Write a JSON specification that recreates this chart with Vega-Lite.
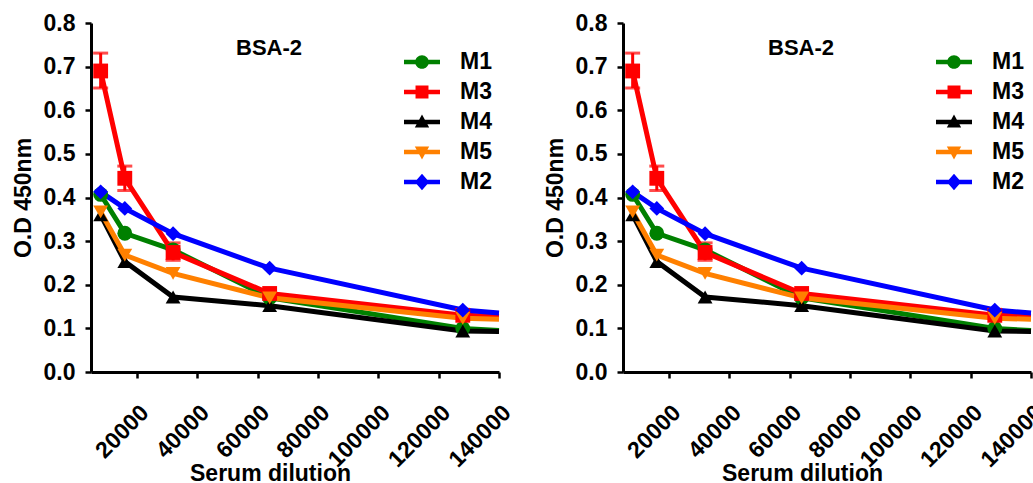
{
  "$schema": "https://vega.github.io/schema/vega-lite/v6.json",
  "padding": {"left": 12, "top": 12, "right": 0, "bottom": 0},
  "background": "white",
  "data": {"values": [
    {"series": "M1", "dil": 8000, "od": 0.407},
    {"series": "M1", "dil": 16000, "od": 0.318},
    {"series": "M1", "dil": 32000, "od": 0.28},
    {"series": "M1", "dil": 64000, "od": 0.17},
    {"series": "M1", "dil": 128000, "od": 0.1},
    {"series": "M1", "dil": 140000, "od": 0.095},
    {"series": "M3", "dil": 8000, "od": 0.69, "lo": 0.651, "hi": 0.731},
    {"series": "M3", "dil": 16000, "od": 0.444, "lo": 0.416, "hi": 0.472},
    {"series": "M3", "dil": 32000, "od": 0.274, "lo": 0.256, "hi": 0.296},
    {"series": "M3", "dil": 64000, "od": 0.18},
    {"series": "M3", "dil": 128000, "od": 0.13},
    {"series": "M3", "dil": 140000, "od": 0.128},
    {"series": "M4", "dil": 8000, "od": 0.36},
    {"series": "M4", "dil": 16000, "od": 0.253},
    {"series": "M4", "dil": 32000, "od": 0.172},
    {"series": "M4", "dil": 64000, "od": 0.152},
    {"series": "M4", "dil": 128000, "od": 0.094},
    {"series": "M4", "dil": 140000, "od": 0.093},
    {"series": "M5", "dil": 8000, "od": 0.367},
    {"series": "M5", "dil": 16000, "od": 0.268},
    {"series": "M5", "dil": 32000, "od": 0.226},
    {"series": "M5", "dil": 64000, "od": 0.17},
    {"series": "M5", "dil": 128000, "od": 0.123},
    {"series": "M5", "dil": 140000, "od": 0.121},
    {"series": "M2", "dil": 8000, "od": 0.413},
    {"series": "M2", "dil": 16000, "od": 0.375},
    {"series": "M2", "dil": 32000, "od": 0.317},
    {"series": "M2", "dil": 64000, "od": 0.238},
    {"series": "M2", "dil": 128000, "od": 0.142},
    {"series": "M2", "dil": 140000, "od": 0.135}
  ]},
  "hconcat": [
    {
      "width": 408, "height": 349,
      "title": {"text": "BSA-2", "anchor": "middle", "frame": "group", "dx": -26, "dy": 65, "offset": 0, "baseline": "alphabetic", "fontSize": 22, "fontWeight": "bold", "font": "Liberation Sans", "color": "black"},
      "encoding": {
        "x": {"field": "dil", "type": "quantitative", "scale": {"domain": [4800, 140000], "nice": false, "zero": false},
              "axis": {"title": "Serum dilution", "values": [20000, 40000, 60000, 80000, 100000, 120000, 140000], "format": "d", "labelAngle": -45, "labelOverlap": false, "labelPadding": 23, "titleX": 179, "titleY": 108, "titleBaseline": "alphabetic"}},
        "y": {"field": "od", "type": "quantitative", "scale": {"domain": [0, 0.8], "nice": false},
              "axis": {"title": "O.D 450nm", "values": [0, 0.1, 0.2, 0.3, 0.4, 0.5, 0.6, 0.7, 0.8], "format": ".1f", "labelOverlap": false}}
      },
      "layer": [
        {"mark": {"type": "line", "strokeWidth": 5},
         "encoding": {"color": {"field": "series", "type": "nominal", "scale": {"domain": ["M1", "M3", "M4", "M5", "M2"], "range": ["#008000", "#ff0000", "#000000", "#ff8000", "#0000ff"]}, "legend": null}}},
        {"transform": [{"filter": "isValid(datum.lo)"}],
         "mark": {"type": "errorbar", "ticks": {"size": 15, "thickness": 3}, "rule": {"strokeWidth": 3}},
         "encoding": {"y": {"field": "lo", "type": "quantitative"}, "y2": {"field": "hi"},
                      "color": {"field": "series", "type": "nominal", "scale": {"domain": ["M1", "M3", "M4", "M5", "M2"], "range": ["#008000", "#ff0000", "#000000", "#ff8000", "#0000ff"]}, "legend": null}}},
        {"transform": [{"filter": "datum.dil < 140000"}],
         "mark": {"type": "point", "filled": true, "size": 220, "opacity": 1, "strokeWidth": 0},
         "encoding": {"color": {"field": "series", "type": "nominal", "scale": {"domain": ["M1", "M3", "M4", "M5", "M2"], "range": ["#008000", "#ff0000", "#000000", "#ff8000", "#0000ff"]}, "legend": null},
                      "shape": {"field": "series", "type": "nominal", "scale": {"domain": ["M1", "M3", "M4", "M5", "M2"], "range": ["circle", "square", "triangle-up", "triangle-down", "diamond"]}, "legend": null}}},
        {"transform": [{"filter": "datum.dil < 0"}],
         "mark": {"type": "point", "filled": true, "opacity": 1, "strokeWidth": 0},
         "encoding": {"color": {"field": "series", "type": "nominal", "scale": {"domain": ["M1", "M3", "M4", "M5", "M2"], "range": ["#008000", "#ff0000", "#000000", "#ff8000", "#0000ff"]}, "legend": {"title": null, "orient": "none", "legendX": 313, "legendY": 21}},
                      "shape": {"field": "series", "type": "nominal", "scale": {"domain": ["M1", "M3", "M4", "M5", "M2"], "range": [
                        "M-1,-0.12H1V0.12H-1Z M-0.38,0A0.38,0.38 0 1,1 0.38,0A0.38,0.38 0 1,1 -0.38,0Z",
                        "M-1,-0.12H1V0.12H-1Z M-0.36,-0.36H0.36V0.36H-0.36Z",
                        "M-1,-0.12H1V0.12H-1Z M0,-0.42L0.4,0.3H-0.4Z",
                        "M-1,-0.12H1V0.12H-1Z M0,0.42L-0.4,-0.3H0.4Z",
                        "M-1,-0.12H1V0.12H-1Z M0,-0.46L0.4,0L0,0.46L-0.4,0Z"]}, "legend": {"title": null, "orient": "none", "legendX": 313, "legendY": 21}}}}
      ],
      "resolve": {"scale": {"color": "independent", "shape": "independent"}}
    },
    {
      "width": 408, "height": 349,
      "title": {"text": "BSA-2", "anchor": "middle", "frame": "group", "dx": -26, "dy": 65, "offset": 0, "baseline": "alphabetic", "fontSize": 22, "fontWeight": "bold", "font": "Liberation Sans", "color": "black"},
      "encoding": {
        "x": {"field": "dil", "type": "quantitative", "scale": {"domain": [4800, 140000], "nice": false, "zero": false},
              "axis": {"title": "Serum dilution", "values": [20000, 40000, 60000, 80000, 100000, 120000, 140000], "format": "d", "labelAngle": -45, "labelOverlap": false, "labelPadding": 23, "titleX": 179, "titleY": 108, "titleBaseline": "alphabetic"}},
        "y": {"field": "od", "type": "quantitative", "scale": {"domain": [0, 0.8], "nice": false},
              "axis": {"title": "O.D 450nm", "values": [0, 0.1, 0.2, 0.3, 0.4, 0.5, 0.6, 0.7, 0.8], "format": ".1f", "labelOverlap": false}}
      },
      "layer": [
        {"mark": {"type": "line", "strokeWidth": 5},
         "encoding": {"color": {"field": "series", "type": "nominal", "scale": {"domain": ["M1", "M3", "M4", "M5", "M2"], "range": ["#008000", "#ff0000", "#000000", "#ff8000", "#0000ff"]}, "legend": null}}},
        {"transform": [{"filter": "isValid(datum.lo)"}],
         "mark": {"type": "errorbar", "ticks": {"size": 15, "thickness": 3}, "rule": {"strokeWidth": 3}},
         "encoding": {"y": {"field": "lo", "type": "quantitative"}, "y2": {"field": "hi"},
                      "color": {"field": "series", "type": "nominal", "scale": {"domain": ["M1", "M3", "M4", "M5", "M2"], "range": ["#008000", "#ff0000", "#000000", "#ff8000", "#0000ff"]}, "legend": null}}},
        {"transform": [{"filter": "datum.dil < 140000"}],
         "mark": {"type": "point", "filled": true, "size": 220, "opacity": 1, "strokeWidth": 0},
         "encoding": {"color": {"field": "series", "type": "nominal", "scale": {"domain": ["M1", "M3", "M4", "M5", "M2"], "range": ["#008000", "#ff0000", "#000000", "#ff8000", "#0000ff"]}, "legend": null},
                      "shape": {"field": "series", "type": "nominal", "scale": {"domain": ["M1", "M3", "M4", "M5", "M2"], "range": ["circle", "square", "triangle-up", "triangle-down", "diamond"]}, "legend": null}}},
        {"transform": [{"filter": "datum.dil < 0"}],
         "mark": {"type": "point", "filled": true, "opacity": 1, "strokeWidth": 0},
         "encoding": {"color": {"field": "series", "type": "nominal", "scale": {"domain": ["M1", "M3", "M4", "M5", "M2"], "range": ["#008000", "#ff0000", "#000000", "#ff8000", "#0000ff"]}, "legend": {"title": null, "orient": "none", "legendX": 313, "legendY": 21}},
                      "shape": {"field": "series", "type": "nominal", "scale": {"domain": ["M1", "M3", "M4", "M5", "M2"], "range": [
                        "M-1,-0.12H1V0.12H-1Z M-0.38,0A0.38,0.38 0 1,1 0.38,0A0.38,0.38 0 1,1 -0.38,0Z",
                        "M-1,-0.12H1V0.12H-1Z M-0.36,-0.36H0.36V0.36H-0.36Z",
                        "M-1,-0.12H1V0.12H-1Z M0,-0.42L0.4,0.3H-0.4Z",
                        "M-1,-0.12H1V0.12H-1Z M0,0.42L-0.4,-0.3H0.4Z",
                        "M-1,-0.12H1V0.12H-1Z M0,-0.46L0.4,0L0,0.46L-0.4,0Z"]}, "legend": {"title": null, "orient": "none", "legendX": 313, "legendY": 21}}}}
      ],
      "resolve": {"scale": {"color": "independent", "shape": "independent"}}
    }
  ],
  "spacing": 28,
  "resolve": {"scale": {"color": "independent", "shape": "independent"}, "legend": {"color": "independent", "shape": "independent"}},
  "config": {
    "view": {"stroke": null},
    "font": "Liberation Sans",
    "axis": {
      "grid": false,
      "domainColor": "black", "domainWidth": 3,
      "tickColor": "black", "tickWidth": 2.5, "tickSize": 6,
      "labelFont": "Liberation Sans", "labelFontWeight": "bold", "labelFontSize": 23, "labelColor": "black", "labelPadding": 8,
      "titleFont": "Liberation Sans", "titleFontWeight": "bold", "titleFontSize": 23, "titleColor": "black"
    },
    "axisY": {"titlePadding": 8, "labelPadding": 10},
    "legend": {
      "padding": 0,
      "labelFont": "Liberation Sans", "labelFontWeight": "bold", "labelFontSize": 23, "labelColor": "black",
      "symbolSize": 1296, "symbolStrokeWidth": 0, "labelOffset": 20, "rowPadding": -1
    }
  }
}
